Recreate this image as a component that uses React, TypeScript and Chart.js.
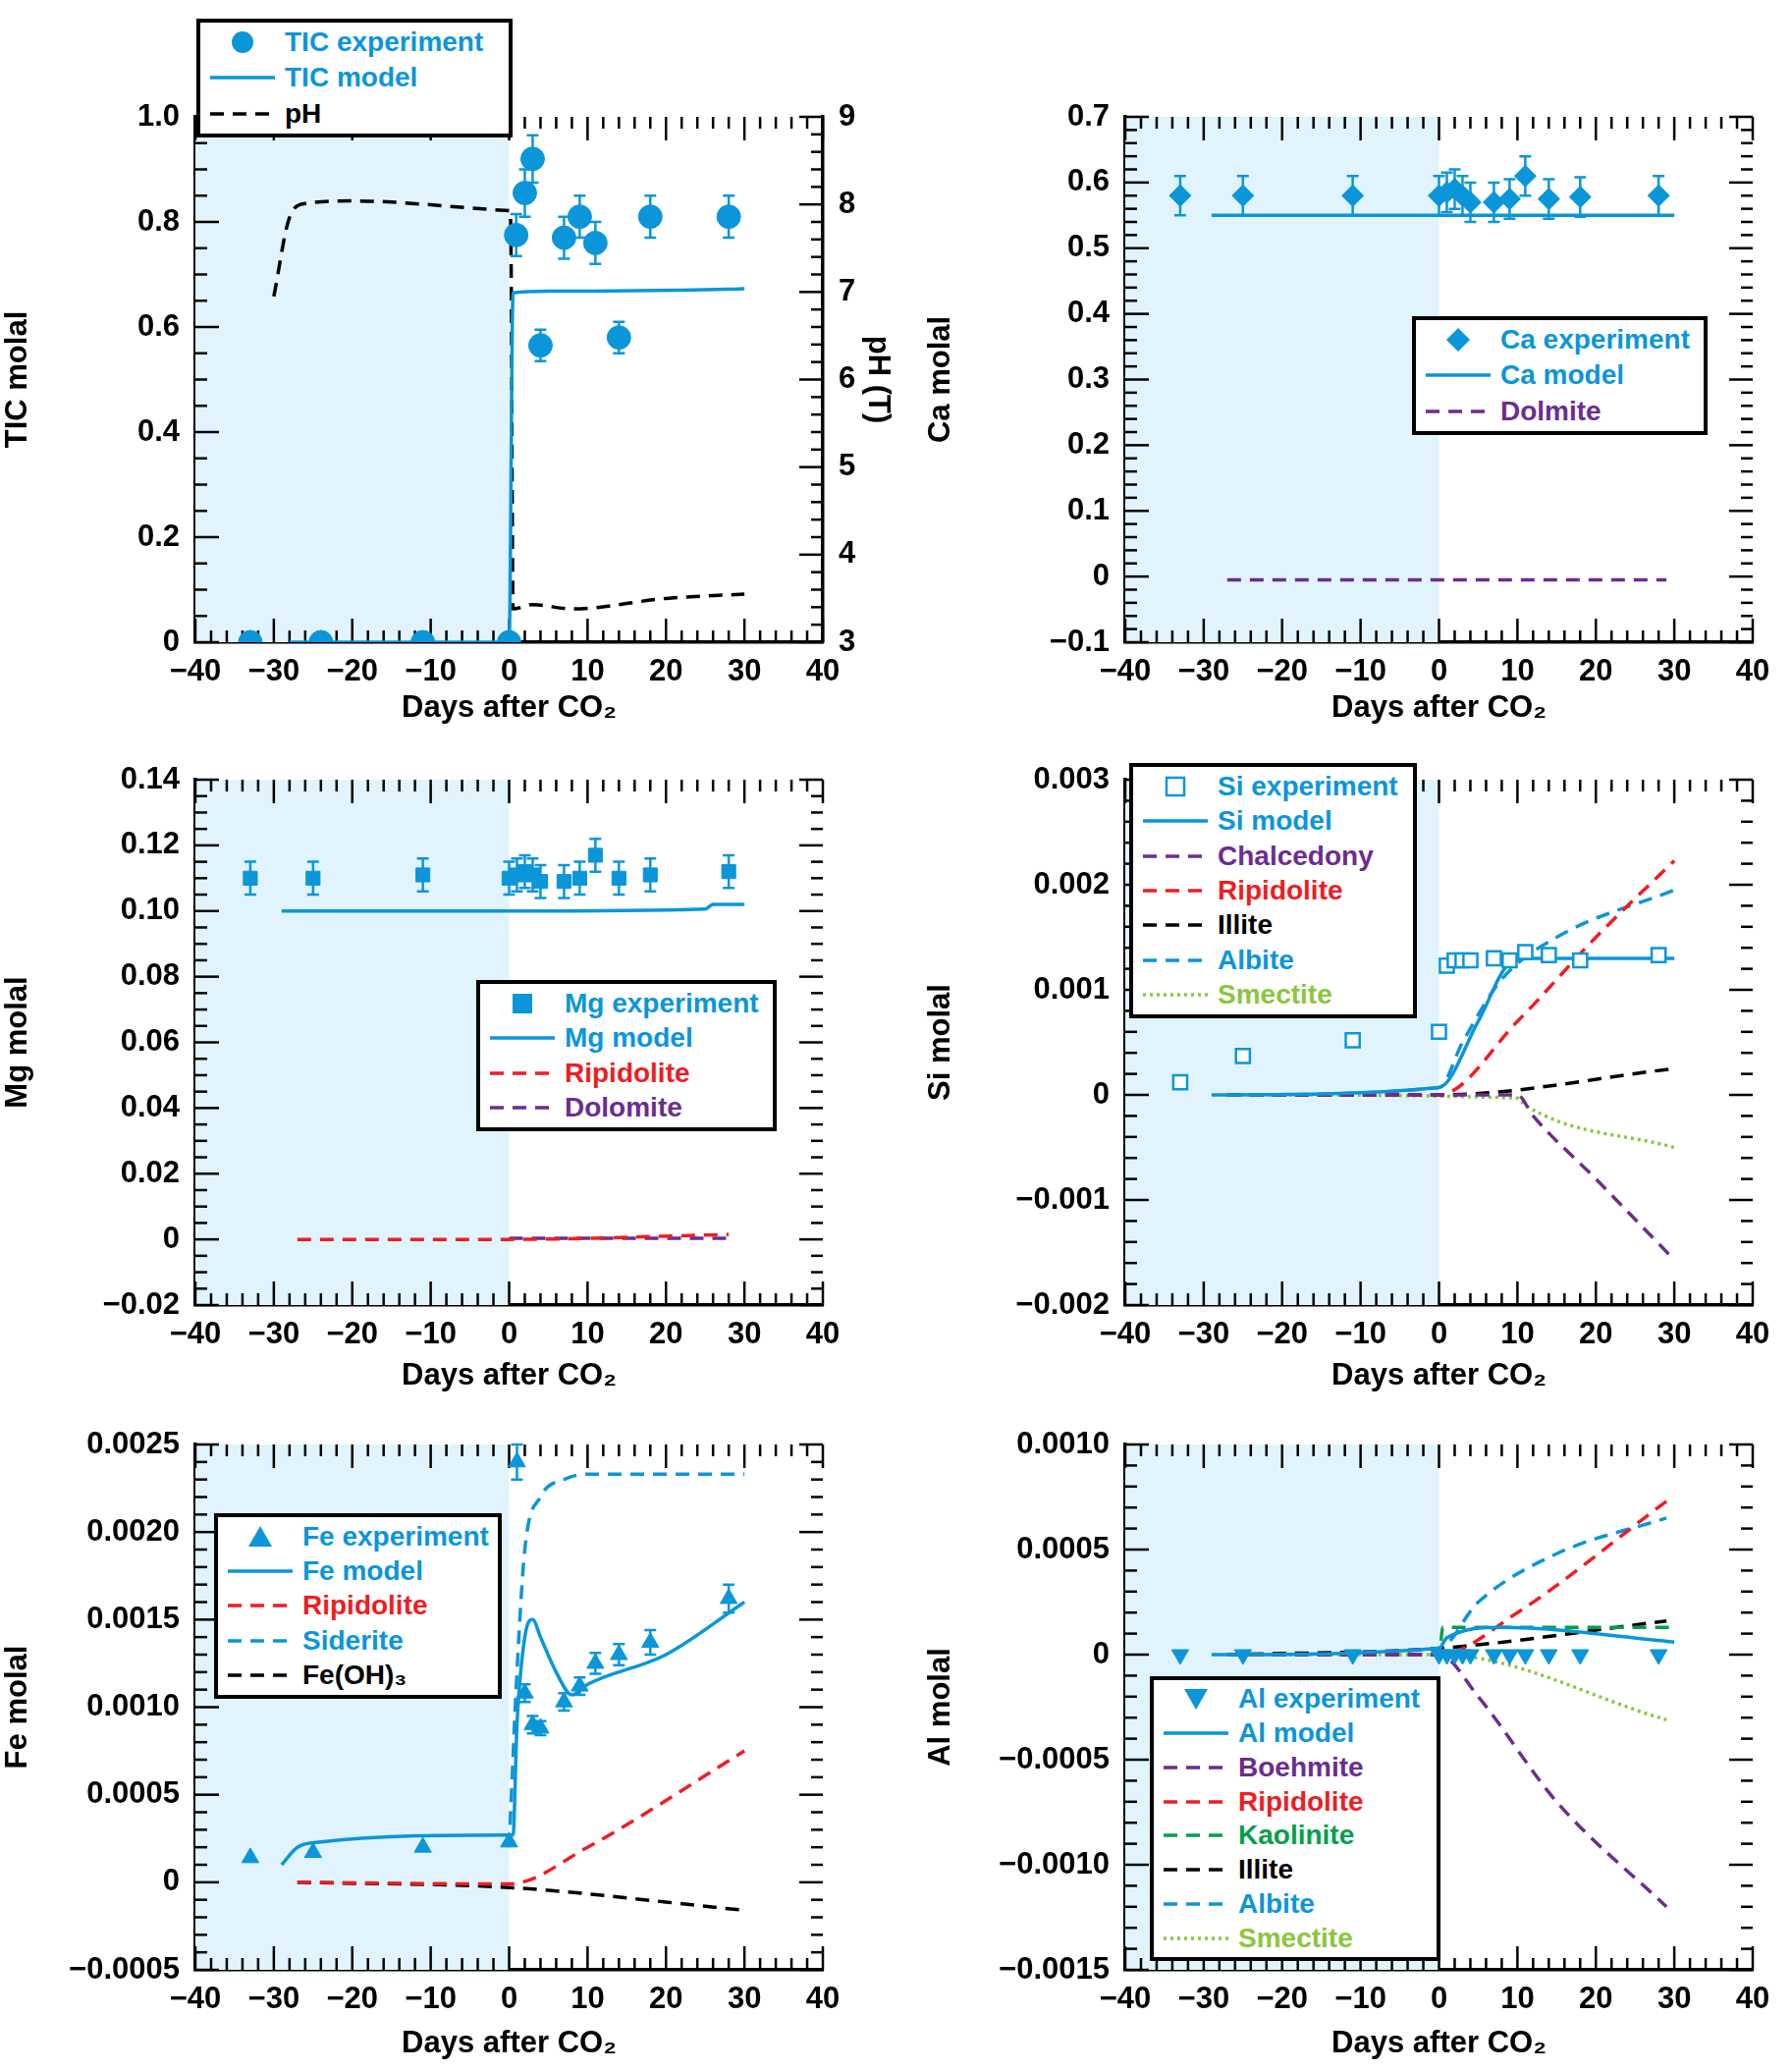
import React, { useEffect, useRef } from "react";
import { Chart, registerables } from "chart.js";
Chart.register(...registerables);

const BLUE = "#0a96d9", PURPLE = "#6b2d90", RED = "#ee1d23", GREEN = "#00a04b", LGREEN = "#8cc63e", BLACK = "#000";
const FONT = "'Liberation Sans', Arial, sans-serif";
type P = [number, number];

// TIC
const ticExpX = [-33, -24, -11, 0, 0.9, 2, 3, 4, 7, 9, 11, 14, 18, 28];
const ticExpY = [0, 0, 0, 0, 0.775, 0.855, 0.92, 0.565, 0.77, 0.81, 0.76, 0.58, 0.81, 0.81];
const ticErr = [0, 0, 0, 0, 0.04, 0.045, 0.045, 0.03, 0.04, 0.04, 0.04, 0.03, 0.04, 0.04];
const ticModel: P[] = [[-28, 0], [0, 0], [0.5, 0.665], [5, 0.668], [28, 0.672], [30, 0.673]];
const ticPH: P[] = [[-30, 6.95], [-28, 7.85], [-26, 8.01], [-20, 8.04], [0, 7.93], [0.2, 7.8], [0.5, 3.38], [3, 3.43], [8, 3.38], [20, 3.5], [30, 3.55]];
// Ca
const caExpX = [-33, -25, -11, 0, 1, 2, 3, 4, 7, 9, 11, 14, 18, 28];
const caExpY = [0.58, 0.58, 0.58, 0.58, 0.585, 0.59, 0.58, 0.57, 0.57, 0.575, 0.61, 0.575, 0.578, 0.58];
const caErr = [0.03, 0.03, 0.03, 0.03, 0.03, 0.03, 0.03, 0.03, 0.03, 0.03, 0.03, 0.03, 0.03, 0.03];
const caModel: P[] = [[-29, 0.55], [30, 0.55]];
const caDolomite: P[] = [[-27, -0.005], [29, -0.005]];
// Mg
const mgExpX = [-33, -25, -11, 0, 1, 2, 3, 4, 7, 9, 11, 14, 18, 28];
const mgExpY = [0.11, 0.11, 0.111, 0.11, 0.111, 0.112, 0.111, 0.109, 0.109, 0.11, 0.117, 0.11, 0.111, 0.112];
const mgErr = [0.005, 0.005, 0.005, 0.005, 0.005, 0.005, 0.005, 0.005, 0.005, 0.005, 0.005, 0.005, 0.005, 0.005];
const mgModel: P[] = [[-29, 0.1], [0, 0.1], [25, 0.1006], [26, 0.102], [30, 0.102]];
const mgRipidolite: P[] = [[-27, 0], [0, 0], [28, 0.0015]];
const mgDolomite: P[] = [[0, 0.0003], [28, 0.0003]];
// Si
const siExpX = [-33, -25, -11, 0, 1, 2, 3, 4, 7, 9, 11, 14, 18, 28];
const siExpY = [0.00012, 0.00037, 0.00052, 0.0006, 0.00123, 0.00128, 0.00128, 0.00128, 0.0013, 0.00128, 0.00136, 0.00133, 0.00128, 0.00133];
const siModel: P[] = [[-29, 0], [0, 0.00007], [5, 0.0007], [9, 0.00125], [12, 0.0013], [30, 0.0013]];
const siChalcedony: P[] = [[-27, 0], [10, 0], [12, -0.0002], [20, -0.0008], [30, -0.00157]];
const siRipidolite: P[] = [[-27, 0], [0, 0], [10, 0.0007], [20, 0.0015], [30, 0.00223]];
const siIllite: P[] = [[-27, 0], [0, 0], [30, 0.00025]];
const siAlbite: P[] = [[-27, 0], [0, 0.00007], [3, 0.0005], [8, 0.0011], [15, 0.0015], [30, 0.00195]];
const siSmectite: P[] = [[-27, 0], [10, -0.00003], [11, -0.0001], [30, -0.0005]];
// Fe
const feExpX = [-33, -25, -11, 0, 1, 2, 3, 4, 7, 9, 11, 14, 18, 28];
const feExpY = [0.00014, 0.00017, 0.0002, 0.00023, 0.0024, 0.00108, 0.0009, 0.00088, 0.00103, 0.00112, 0.00125, 0.0013, 0.00137, 0.00162];
const feErr = [0, 0, 0, 0, 0.0001, 0.00005, 0.00005, 0.00004, 0.00005, 0.00005, 0.00006, 0.00006, 0.00007, 0.00008];
const feModel: P[] = [[-29, 0.0001], [-27, 0.0002], [-24, 0.00023], [0, 0.00027], [0.5, 0.00027], [1, 0.0009], [2, 0.0014], [3, 0.0015], [4, 0.0014], [6, 0.0012], [8, 0.00107], [10, 0.00113], [20, 0.0013], [30, 0.0016]];
const feSiderite: P[] = [[0, 0.0002], [1, 0.0012], [2, 0.0019], [4, 0.0022], [7, 0.0023], [10, 0.00233], [30, 0.00233]];
const feRipidolite: P[] = [[-27, 0], [0, -0.00001], [10, 0.0002], [30, 0.00075]];
const feFeOH3: P[] = [[-27, 0], [0, -0.00003], [30, -0.00016]];
// Al
const alExpX = [-33, -25, -11, 0, 1, 2, 3, 4, 7, 9, 11, 14, 18, 28];
const alExpY = [0, 0, 0, 0, 0, 0, 0, 0, 0, 0, 0, 0, 0, 0];
const alModel: P[] = [[-29, 0], [0, 0.00003], [1, 0.00008], [8, 0.00013], [30, 0.00006]];
const alBoehmite: P[] = [[-27, 0], [0, 0], [5, -0.0002], [15, -0.0007], [29, -0.0012]];
const alRipidolite: P[] = [[-27, 0], [0, 0], [10, 0.0002], [29, 0.00073]];
const alKaolinite: P[] = [[-27, 0], [0, 0], [0.5, 0.00013], [30, 0.00013]];
const alIllite: P[] = [[-27, 0], [0, 0.00003], [29, 0.00016]];
const alAlbite: P[] = [[-27, 0], [0, 0.00003], [5, 0.00025], [15, 0.00048], [29, 0.00065]];
const alSmectite: P[] = [[-27, 0], [0, 0], [29, -0.00031]];

const toXY = (a: P[]) => a.map(([x, y]) => ({ x, y }));
const zip = (xs: number[], ys: number[]) => xs.map((x, i) => ({ x, y: ys[i] }));
const fmt = (d: number) => (v: number) => (Math.abs(v) < 1e-12 ? "0" : (v < 0 ? "\u2212" : "") + Math.abs(v).toFixed(d));

const line = (data: P[], color: string, kind: "solid" | "dash" | "dot", yAxisID = "y") => ({
  type: "line", data: toXY(data), borderColor: color, borderWidth: 3.5, pointRadius: 0, fill: false,
  cubicInterpolationMode: "monotone", yAxisID,
  borderDash: kind === "dash" ? [14, 9] : kind === "dot" ? [3, 4] : [],
});
const pts = (xs: number[], ys: number[], style: string, err?: number[], open = false, rot = 0, r = 12) => ({
  type: "scatter", data: zip(xs, ys), pointStyle: style, pointRadius: r, pointRotation: rot,
  backgroundColor: open ? "#fff" : BLUE, borderColor: BLUE, borderWidth: open ? 2.5 : 1, errors: err,
});

const plugin = {
  id: "deco",
  beforeDatasetsDraw(c: any) {
    const { ctx, chartArea: a, scales } = c;
    const x0 = scales.x.getPixelForValue(0);
    ctx.save(); ctx.fillStyle = "#e1f4fd"; ctx.fillRect(a.left, a.top, x0 - a.left, a.bottom - a.top);
    ctx.strokeStyle = "#000"; ctx.lineWidth = 2.5;
    const o = c.options.plugins.deco;
    const tick = (ax: "x" | "y", sc: any, side: number, min: number, max: number, step: number, minor: number) => {
      for (let k = 0; k <= Math.round((max - min) / minor); k++) {
        const v = min + k * minor;
        const isMaj = Math.abs((v - min) / step - Math.round((v - min) / step)) < 1e-6;
        const L = isMaj ? 24 : 12;
        const p = sc.getPixelForValue(v);
        ctx.beginPath();
        if (ax === "x") { const y = side ? a.top : a.bottom; ctx.moveTo(p, y); ctx.lineTo(p, side ? y + L : y - L); }
        else { const x = side ? a.right : a.left; ctx.moveTo(x, p); ctx.lineTo(side ? x - L : x + L, p); }
        ctx.stroke();
      }
    };
    tick("x", scales.x, 0, -40, 40, 10, 2); tick("x", scales.x, 1, -40, 40, 10, 2);
    tick("y", scales.y, 0, o.min, o.max, o.step, o.minor);
    if (scales.y2) tick("y", scales.y2, 1, 3, 9, 1, 0.2); else tick("y", scales.y, 1, o.min, o.max, o.step, o.minor);
    ctx.restore();
  },
  afterDatasetsDraw(c: any) {
    const { ctx } = c;
    ctx.save(); ctx.strokeStyle = BLUE; ctx.lineWidth = 2.5;
    c.data.datasets.forEach((ds: any, i: number) => {
      if (!ds.errors) return;
      const m = c.getDatasetMeta(i); const ys = c.scales[m.yAxisID || "y"];
      ds.data.forEach((d: any, j: number) => {
        const e = ds.errors[j]; if (!e) return;
        const x = m.data[j].x; const t = ys.getPixelForValue(d.y + e), b = ys.getPixelForValue(d.y - e);
        ctx.beginPath(); ctx.moveTo(x, t); ctx.lineTo(x, b);
        ctx.moveTo(x - 6, t); ctx.lineTo(x + 6, t); ctx.moveTo(x - 6, b); ctx.lineTo(x + 6, b); ctx.stroke();
      });
    });
    ctx.restore();
  },
};

type Cfg = {
  left: number; top: number; w: number; h: number; plotL: number; plotT: number; plotR: number; plotB: number;
  min: number; max: number; step: number; minor: number; dec: number; title: string; datasets: any[]; y2?: boolean;
};

const tickFont = { family: FONT, size: 31, weight: "bold" as const };

function Panel({ c }: { c: Cfg }) {
  const ref = useRef<HTMLCanvasElement>(null);
  useEffect(() => {
    const yW = c.plotL - c.left, rW = c.left + c.w - c.plotR, xH = c.top + c.h - c.plotB;
    const scales: any = {
      x: {
        type: "linear", min: -40, max: 40, grid: { display: false }, border: { color: "#000", width: 3.5 },
        ticks: { stepSize: 10, font: tickFont, color: "#000", padding: 4, callback: (v: number) => fmt(0)(v) },
        title: { display: true, text: "Days after CO\u2082", font: tickFont, color: "#000", padding: 0 },
        afterFit: (s: any) => { s.height = xH; },
      },
      y: {
        type: "linear", min: c.min, max: c.max, grid: { display: false }, border: { color: "#000", width: 3.5 },
        ticks: { stepSize: c.step, font: tickFont, color: "#000", padding: 8, callback: (v: number) => fmt(c.dec)(v) },
        title: { display: true, text: c.title, font: tickFont, color: "#000", padding: 0 },
        afterFit: (s: any) => { s.width = yW; },
      },
    };
    if (c.y2) scales.y2 = {
      type: "linear", position: "right", min: 3, max: 9, grid: { display: false }, border: { color: "#000", width: 3.5 },
      ticks: { stepSize: 1, font: tickFont, color: "#000", padding: 8 },
      title: { display: true, text: "pH (T)", font: tickFont, color: "#000", padding: 0 },
      afterFit: (s: any) => { s.width = rW; },
    };
    const ch = new Chart(ref.current!, {
      type: "scatter",
      data: { datasets: c.datasets },
      options: {
        animation: false, responsive: false, maintainAspectRatio: false,
        layout: { padding: { top: c.plotT - c.top, right: c.y2 ? 0 : rW, left: 0, bottom: 0 } },
        plugins: { legend: { display: false }, tooltip: { enabled: false }, deco: { min: c.min, max: c.max, step: c.step, minor: c.minor } } as any,
        scales,
      },
      plugins: [plugin],
    } as any);
    return () => ch.destroy();
  }, []);
  return <canvas ref={ref} width={c.w} height={c.h} style={{ position: "absolute", left: c.left, top: c.top, width: c.w, height: c.h }} />;
}

type LI = { label: string; color: string; kind: string };
function Marker({ kind, color }: { kind: string; color: string }) {
  if (kind === "solid" || kind === "dash" || kind === "dot")
    return (
      <svg width={70} height={10}>
        <line x1={2} y1={5} x2={68} y2={5} stroke={color} strokeWidth={3.5}
          strokeDasharray={kind === "dash" ? "14 9" : kind === "dot" ? "3 4" : undefined} />
      </svg>
    );
  let shape: any = null;
  if (kind === "circle") shape = <circle cx={15} cy={15} r={11} fill={color} />;
  if (kind === "diamond") shape = <polygon points="15,3 27,15 15,27 3,15" fill={color} />;
  if (kind === "square") shape = <rect x={5} y={5} width={20} height={20} fill={color} />;
  if (kind === "osquare") shape = <rect x={6} y={6} width={18} height={18} fill="#fff" stroke={color} strokeWidth={2.5} />;
  if (kind === "tri") shape = <polygon points="15,4 27,25 3,25" fill={color} />;
  if (kind === "dtri") shape = <polygon points="3,5 27,5 15,26" fill={color} />;
  return <div style={{ width: 70, display: "flex", justifyContent: "center" }}><svg width={30} height={30}>{shape}</svg></div>;
}
function Legend({ x, y, w, h, items }: { x: number; y: number; w: number; h: number; items: LI[] }) {
  return (
    <div style={{ position: "absolute", left: x, top: y, width: w, height: h, border: "4px solid #000", background: "#fff", boxSizing: "border-box", padding: "2px 8px", display: "flex", flexDirection: "column", justifyContent: "space-around" }}>
      {items.map((it) => (
        <div key={it.label} style={{ display: "flex", alignItems: "center", gap: 8, height: 34 }}>
          <Marker kind={it.kind} color={it.color} />
          <span style={{ font: `bold 28px ${FONT}`, color: it.color, whiteSpace: "nowrap" }}>{it.label}</span>
        </div>
      ))}
    </div>
  );
}

const L = { left: 0, w: 912, plotL: 199, plotR: 838 };
const R = { left: 940, w: 885, plotL: 1146, plotR: 1785 };
const R1 = { top: 0, h: 740, plotT: 119, plotB: 654 };
const R2 = { top: 700, h: 720, plotT: 794, plotB: 1329 };
const R3 = { top: 1380, h: 720, plotT: 1471, plotB: 2006 };

const panels: Cfg[] = [
  { ...L, ...R1, min: 0, max: 1, step: 0.2, minor: 0.05, dec: 1, title: "TIC molal", y2: true,
    datasets: [pts(ticExpX, ticExpY, "circle", ticErr), line(ticModel, BLUE, "solid"), line(ticPH, BLACK, "dash", "y2")] },
  { ...R, ...R1, min: -0.1, max: 0.7, step: 0.1, minor: 0.02, dec: 1, title: "Ca molal",
    datasets: [pts(caExpX, caExpY, "rectRot", caErr, false, 0, 11), line(caModel, BLUE, "solid"), line(caDolomite, PURPLE, "dash")] },
  { ...L, ...R2, min: -0.02, max: 0.14, step: 0.02, minor: 0.005, dec: 2, title: "Mg molal",
    datasets: [pts(mgExpX, mgExpY, "rect", mgErr, false, 0, 10), line(mgModel, BLUE, "solid"), line(mgRipidolite, RED, "dash"), line(mgDolomite, PURPLE, "dash")] },
  { ...R, ...R2, min: -0.002, max: 0.003, step: 0.001, minor: 0.0002, dec: 3, title: "Si molal",
    datasets: [pts(siExpX, siExpY, "rect", undefined, true, 0, 10), line(siModel, BLUE, "solid"), line(siChalcedony, PURPLE, "dash"), line(siRipidolite, RED, "dash"), line(siIllite, BLACK, "dash"), line(siAlbite, BLUE, "dash"), line(siSmectite, LGREEN, "dot")] },
  { ...L, ...R3, min: -0.0005, max: 0.0025, step: 0.0005, minor: 0.0001, dec: 4, title: "Fe molal",
    datasets: [pts(feExpX, feExpY, "triangle", feErr, false, 0, 10), line(feModel, BLUE, "solid"), line(feSiderite, BLUE, "dash"), line(feRipidolite, RED, "dash"), line(feFeOH3, BLACK, "dash")] },
  { ...R, ...R3, min: -0.0015, max: 0.001, step: 0.0005, minor: 0.0001, dec: 4, title: "Al molal",
    datasets: [pts(alExpX, alExpY, "triangle", undefined, false, 180, 10), line(alModel, BLUE, "solid"), line(alBoehmite, PURPLE, "dash"), line(alRipidolite, RED, "dash"), line(alKaolinite, GREEN, "dash"), line(alIllite, BLACK, "dash"), line(alAlbite, BLUE, "dash"), line(alSmectite, LGREEN, "dot")] },
];

export default function App() {
  return (
    <div style={{ position: "absolute", left: 0, top: 0, width: 1825, height: 2108, background: "#fff" }}>
      {panels.map((p, i) => <Panel key={i} c={p} />)}
      <Legend x={200} y={19} w={322} h={121} items={[{ label: "TIC experiment", color: BLUE, kind: "circle" }, { label: "TIC model", color: BLUE, kind: "solid" }, { label: "pH", color: BLACK, kind: "dash" }]} />
      <Legend x={1438} y={322} w={301} h={121} items={[{ label: "Ca experiment", color: BLUE, kind: "diamond" }, { label: "Ca model", color: BLUE, kind: "solid" }, { label: "Dolmite", color: PURPLE, kind: "dash" }]} />
      <Legend x={485} y={998} w={306} h={154} items={[{ label: "Mg experiment", color: BLUE, kind: "square" }, { label: "Mg model", color: BLUE, kind: "solid" }, { label: "Ripidolite", color: RED, kind: "dash" }, { label: "Dolomite", color: PURPLE, kind: "dash" }]} />
      <Legend x={1150} y={777} w={293} h={260} items={[{ label: "Si experiment", color: BLUE, kind: "osquare" }, { label: "Si model", color: BLUE, kind: "solid" }, { label: "Chalcedony", color: PURPLE, kind: "dash" }, { label: "Ripidolite", color: RED, kind: "dash" }, { label: "Illite", color: BLACK, kind: "dash" }, { label: "Albite", color: BLUE, kind: "dash" }, { label: "Smectite", color: LGREEN, kind: "dot" }]} />
      <Legend x={218} y={1541} w={293} h={189} items={[{ label: "Fe experiment", color: BLUE, kind: "tri" }, { label: "Fe model", color: BLUE, kind: "solid" }, { label: "Ripidolite", color: RED, kind: "dash" }, { label: "Siderite", color: BLUE, kind: "dash" }, { label: "Fe(OH)\u2083", color: BLACK, kind: "dash" }]} />
      <Legend x={1171} y={1707} w={296} h={290} items={[{ label: "Al experiment", color: BLUE, kind: "dtri" }, { label: "Al model", color: BLUE, kind: "solid" }, { label: "Boehmite", color: PURPLE, kind: "dash" }, { label: "Ripidolite", color: RED, kind: "dash" }, { label: "Kaolinite", color: GREEN, kind: "dash" }, { label: "Illite", color: BLACK, kind: "dash" }, { label: "Albite", color: BLUE, kind: "dash" }, { label: "Smectite", color: LGREEN, kind: "dot" }]} />
    </div>
  );
}
